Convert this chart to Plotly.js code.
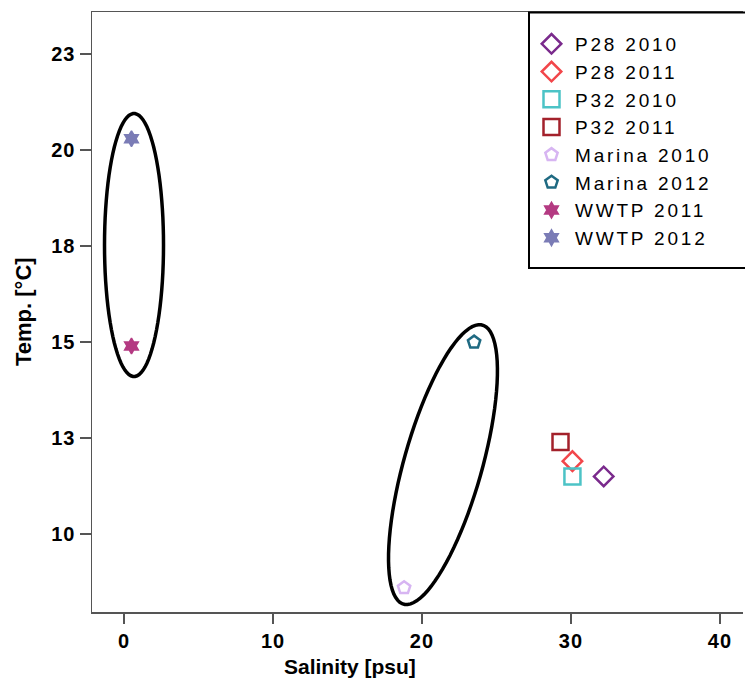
<!DOCTYPE html>
<html><head><meta charset="utf-8">
<script src="https://cdn.plot.ly/plotly-3.0.1.min.js"></script>
<style>html,body{margin:0;padding:0;background:#fff;}#chart{width:745px;height:682px;}
.legendtext{letter-spacing:2.8px;}
.xtick text,.ytick text{letter-spacing:1px;}
</style>
</head><body><div id="chart"></div>
<script>
// ---- data ----
const seriesNames = ['P28 2010','P28 2011','P32 2010','P32 2011','Marina 2010','Marina 2012','WWTP 2011','WWTP 2012'];
const salinity    = [32.2, 30.1, 30.1, 29.3, 18.8, 23.5, 0.5, 0.5];
const temperature = [11.5, 11.9, 11.5, 12.4, 8.6, 15.0, 14.9, 20.3];
const yTickVals   = [10, 12.5, 15, 17.5, 20, 22.5];
const yTickText   = ['10','13','15','18','20','23'];
const xTickVals   = [0, 10, 20, 30, 40];
const xTitle = 'Salinity [psu]';
const yTitle = 'Temp. [°C]';

// ---- styles ----
const colors  = ['#7a2a8c','#f2464a','#4cc3c6','#a3212b','#d7b5f2','#1f6a82','#b43a82','#7b7cb6'];
const symbols = ['diamond-open','diamond-open','square-open','square-open','pentagon-open','pentagon-open','hexagram','hexagram'];
const sizes   = [15,15,16,16,13,13,12,12];
const lw      = [2.5,2.5,2.5,2.5,2.5,2.5,1.5,1.5];

const W = 745, H = 682;
const M = {l:92, r:2, t:12, b:70};
const xRange = [-2.15, 41.55];
const yRange = [7.97, 23.6];
const pw = W - M.l - M.r, ph = H - M.t - M.b;
const pxX = pw / (xRange[1]-xRange[0]);
const pxY = ph / (yRange[1]-yRange[0]);
const FF = 'Liberation Sans, Arial, sans-serif';

const traces = seriesNames.map((n,i)=>({
  type:'scatter', mode:'markers', name:n,
  x:[salinity[i]], y:[temperature[i]],
  marker:{symbol:symbols[i], size:sizes[i], color:colors[i], line:{color:colors[i], width:lw[i]}},
  showlegend:true
}));

function ellipsePath(cx, cy, aPx, bPx, tiltDeg){
  const t = tiltDeg*Math.PI/180;
  let d = '';
  for(let k=0;k<=90;k++){
    const u = 2*Math.PI*k/90;
    const lx = bPx*Math.cos(u), ly = aPx*Math.sin(u);
    const px = lx*Math.cos(t) + ly*Math.sin(t);
    const py = -lx*Math.sin(t) + ly*Math.cos(t);
    const X = cx + px/pxX, Y = cy + py/pxY;
    d += (k===0?'M':'L') + X.toFixed(4) + ',' + Y.toFixed(4);
  }
  return d + 'Z';
}
const shapes = [
  {type:'path', xref:'x', yref:'y', path:ellipsePath(0.67, 17.53, 131.5, 29.5, 0), line:{color:'#000', width:3.5}},
  {type:'path', xref:'x', yref:'y', path:ellipsePath(21.41, 11.81, 145, 39, 15.8), line:{color:'#000', width:3.5}},
  {type:'rect', xref:'paper', yref:'paper', x0:(529-M.l)/pw, x1:(760-M.l)/pw, y0:1-(268-M.t)/ph, y1:1-(12.5-M.t)/ph, line:{color:'#000', width:2}, fillcolor:'rgba(0,0,0,0)'}
];

const axisFont = {family:FF, size:20, color:'#000', weight:'bold'};
const layout = {
  width:W, height:H, margin:M,
  paper_bgcolor:'#fff', plot_bgcolor:'#fff',
  showlegend:true,
  xaxis:{range:xRange, tickvals:xTickVals, ticks:'outside', ticklen:10, tickcolor:'#555', tickwidth:1.5,
    showline:true, linecolor:'#555', linewidth:1.5, mirror:true, showgrid:false, zeroline:false,
    tickfont:axisFont},
  yaxis:{range:yRange, tickvals:yTickVals, ticktext:yTickText, ticks:'outside', ticklen:11, tickcolor:'#555', tickwidth:1.5,
    showline:true, linecolor:'#555', linewidth:1.5, mirror:false, showgrid:false, zeroline:false,
    tickfont:axisFont},
  annotations:[
    {text:xTitle, xref:'paper', yref:'paper', x:(350-M.l)/pw, y:1-(666-M.t)/ph, xanchor:'center', yanchor:'middle', showarrow:false,
     font:{family:FF, size:21, color:'#000', weight:'bold'}},
    {text:yTitle, xref:'paper', yref:'paper', x:(23-M.l)/pw, y:0.5, xanchor:'center', yanchor:'middle', showarrow:false, textangle:-90,
     font:{family:FF, size:22, color:'#000', weight:'bold'}}
  ],
  legend:{x:(528-M.l)/pw, xanchor:'left', y:1-(25-M.t)/ph, yanchor:'top', bgcolor:'rgba(0,0,0,0)', borderwidth:0,
    font:{family:FF, size:19, color:'#000'}, itemwidth:37, itemsizing:'trace'},
  shapes:shapes
};
Plotly.newPlot('chart', traces, layout, {displayModeBar:false, staticPlot:true});
</script></body></html>
